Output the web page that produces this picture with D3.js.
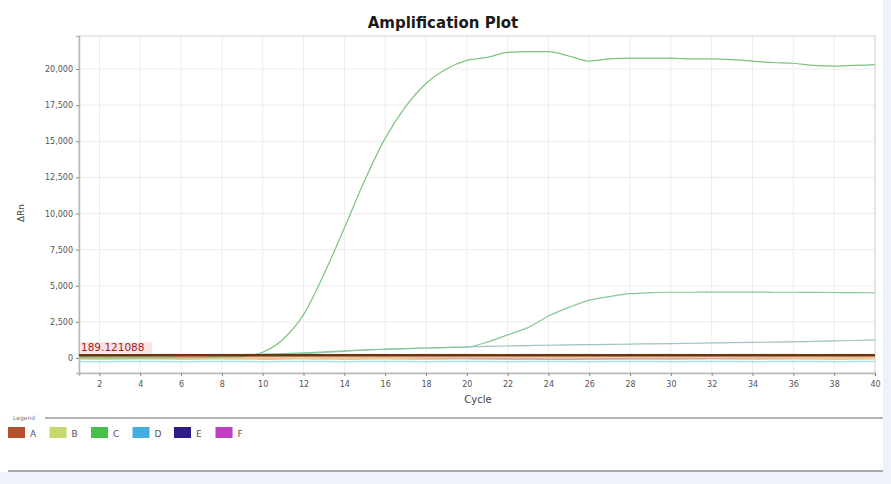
<!DOCTYPE html>
<html>
<head>
<meta charset="utf-8">
<script src="https://cdn.jsdelivr.net/npm/d3@7"></script>
<style>
  body { margin: 0; background: #fff; }
  svg { display: block; font-family: "DejaVu Sans", Arial, sans-serif; }
</style>
</head>
<body>
<div id="chart"></div>
<script>
// ---- data ----
const cycles = [1,2,3,4,5,6,7,8,9,10,11,12,13,14,15,16,17,18,19,20,
                21,22,23,24,25,26,27,28,29,30,31,32,33,34,35,36,37,38,39,40];

// well C, strong amplification
const c1Values = [0,0,0,10,20,30,40,60,100,400,1300,3000,5800,9000,12300,15200,17400,19000,20000,20600,
                  20800,21150,21200,21200,20900,20550,20700,20750,20750,20750,20700,20700,20650,20550,20450,20400,20250,20200,20250,20300];
// well C, late amplification
const c2Values = [100,120,140,150,160,170,190,210,230,260,300,350,420,500,560,610,650,690,720,760,
                  1100,1600,2100,2900,3500,4000,4250,4450,4520,4550,4550,4560,4560,4560,4550,4550,4540,4530,4520,4510];
// well D, slow drift
const dValues = [120,130,140,150,160,170,180,190,200,220,250,300,380,460,540,600,650,690,730,770,
                 800,830,860,880,900,920,940,960,980,1000,1020,1040,1060,1080,1100,1120,1150,1180,1210,1250];
// flat baseline wells
const aValues = [160,150,140,150,160,150,140,150,150,160,150,140,150,160,150,150,140,150,160,150,
                 150,140,150,160,150,150,140,150,160,150,150,140,150,150,160,150,140,150,160,150];
const bValues = [60,50,40,50,60,50,40,50,60,50,50,40,50,60,50,40,50,60,50,50,
                 40,50,60,50,40,50,60,50,50,40,50,60,50,40,50,60,50,50,40,50];
const eValues = [-20,-30,-20,-10,-20,-30,-20,-10,-20,-30,-20,-10,-20,-30,-20,-10,-20,-30,-20,-10,
                 -20,-30,-20,-10,-20,-30,-20,-10,-20,-30,-20,-10,-20,-30,-20,-10,-20,-30,-20,-10];
const fValues = [90,80,70,80,90,80,70,80,90,80,70,80,90,80,70,60,40,20,0,-20,
                 -40,-60,-70,-80,-80,-70,-60,-50,-40,-30,-20,-10,0,10,20,30,40,50,60,70];
const d2Values = [-250,-260,-250,-240,-250,-260,-250,-240,-250,-260,-250,-240,-250,-260,-250,-240,-250,-260,-250,-240,
                  -250,-260,-250,-240,-250,-260,-250,-240,-250,-260,-250,-240,-250,-260,-250,-240,-250,-260,-250,-240];

const threshold = 189.121088;

const yTicks = [0, 2500, 5000, 7500, 10000, 12500, 15000, 17500, 20000];
const xTicks = [2,4,6,8,10,12,14,16,18,20,22,24,26,28,30,32,34,36,38,40];

const legendNames = ["A", "B", "C", "D", "E", "F"];
const legendColors = ["#b4512a", "#c7d86c", "#45c04a", "#43aee0", "#2b1c86", "#c03ec4"];

const series = [
  { values: d2Values, color: "#a8e4ee", width: 1.5 },
  { values: eValues, color: "#f2c48a", width: 3 },
  { values: bValues, color: "#e8d27a", width: 2 },
  { values: fValues, color: "#d9a0b0", width: 1.5 },
  { values: aValues, color: "#f3c9a6", width: 4 },
  { values: dValues, color: "#9fc2c4", width: 1.2 },
  { values: c2Values, color: "#86c89a", width: 1.2 },
  { values: c1Values, color: "#7cc47f", width: 1.2 }
];

// ---- layout ----
const width = 891, height = 484;
const margin = { left: 79, right: 16, top: 36, bottom: 111 };

const svg = d3.select("#chart").append("svg")
  .attr("width", width)
  .attr("height", height);

// outer light-blue frame
svg.append("rect").attr("x", 0).attr("y", 0).attr("width", width).attr("height", height).attr("fill", "#eef3fb");
svg.append("rect").attr("x", 0).attr("y", 0).attr("width", 883).attr("height", 472).attr("fill", "#fff");

const x = d3.scaleLinear().domain([1, 40]).range([margin.left, width - margin.right]);
const y = d3.scaleLinear().domain([-1040, 22285]).range([height - margin.bottom, margin.top]);

// grid
svg.append("g")
  .selectAll("line")
  .data(xTicks)
  .enter().append("line")
  .attr("x1", d => x(d)).attr("x2", d => x(d))
  .attr("y1", margin.top).attr("y2", height - margin.bottom)
  .attr("stroke", "#ececec");

svg.append("g")
  .selectAll("line")
  .data(yTicks)
  .enter().append("line")
  .attr("x1", margin.left).attr("x2", width - margin.right)
  .attr("y1", d => y(d)).attr("y2", d => y(d))
  .attr("stroke", "#ececec");

// plot border
svg.append("rect")
  .attr("x", margin.left).attr("y", margin.top)
  .attr("width", width - margin.left - margin.right)
  .attr("height", height - margin.top - margin.bottom)
  .attr("fill", "none")
  .attr("stroke", "#d6d6d6");

// axes
const yAxis = d3.axisLeft(y)
  .tickValues(yTicks)
  .tickSize(3)
  .tickFormat(d3.format(","));

const xAxis = d3.axisBottom(x)
  .tickValues(xTicks)
  .tickSize(3)
  .tickFormat(d3.format("d"));

const gy = svg.append("g")
  .attr("transform", `translate(${margin.left},0)`)
  .call(yAxis);
const gx = svg.append("g")
  .attr("transform", `translate(0,${height - margin.bottom})`)
  .call(xAxis);

[gx, gy].forEach(g => {
  g.select(".domain").attr("stroke", "#b8b8b8").attr("stroke-width", 1.5);
  g.selectAll(".tick line").attr("stroke", "#888");
  g.selectAll(".tick text")
    .attr("fill", "#555")
    .style("font-size", "8px")
    .style("font-family", "DejaVu Sans, Arial, sans-serif");
});
gy.selectAll(".tick text").attr("x", -6);
gx.selectAll(".tick text").attr("y", 8);

// curves
const line = d3.line()
  .x((d, i) => x(cycles[i]))
  .y(d => y(d))
  .curve(d3.curveMonotoneX);

svg.append("g")
  .selectAll("path")
  .data(series)
  .enter().append("path")
  .attr("d", d => line(d.values))
  .attr("fill", "none")
  .attr("stroke", d => d.color)
  .attr("stroke-width", d => d.width);

// threshold line and label
svg.append("line")
  .attr("x1", margin.left).attr("x2", width - margin.right)
  .attr("y1", y(threshold)).attr("y2", y(threshold))
  .attr("stroke", "#6b3512")
  .attr("stroke-width", 2.5);

svg.append("rect")
  .attr("x", margin.left + 1).attr("y", y(threshold) - 13)
  .attr("width", 72).attr("height", 11)
  .attr("fill", "#fbe3e3");

svg.append("text")
  .attr("x", margin.left + 2)
  .attr("y", y(threshold) - 4)
  .attr("fill", "#a11d1d")
  .style("font-size", "10.5px")
  .text("189.121088");

// titles
svg.append("text")
  .attr("x", 443).attr("y", 28)
  .attr("text-anchor", "middle")
  .style("font-size", "15px")
  .style("font-weight", "bold")
  .attr("fill", "#1a1a1a")
  .text("Amplification Plot");

svg.append("text")
  .attr("x", 478).attr("y", 403)
  .attr("text-anchor", "middle")
  .style("font-size", "10px")
  .attr("fill", "#444")
  .text("Cycle");

svg.append("text")
  .attr("transform", "translate(24,213) rotate(-90)")
  .attr("text-anchor", "middle")
  .style("font-size", "9px")
  .attr("fill", "#444")
  .text("ΔRn");

// legend
svg.append("line")
  .attr("x1", 45).attr("x2", 883)
  .attr("y1", 418).attr("y2", 418)
  .attr("stroke", "#9a9a9a").attr("stroke-width", 1.5);
svg.append("line")
  .attr("x1", 8).attr("x2", 883)
  .attr("y1", 471).attr("y2", 471)
  .attr("stroke", "#a8a8a8").attr("stroke-width", 2);
svg.append("text")
  .attr("x", 13).attr("y", 420)
  .style("font-size", "6px")
  .attr("fill", "#777")
  .text("Legend");

const legendItems = svg.append("g")
  .selectAll("g")
  .data(legendNames)
  .enter().append("g")
  .attr("transform", (d, i) => `translate(${8 + i * 41.5},427)`);

legendItems.append("rect")
  .attr("width", 17).attr("height", 11)
  .attr("fill", (d, i) => legendColors[i]);

legendItems.append("text")
  .attr("x", 22).attr("y", 10)
  .style("font-size", "9px")
  .attr("fill", "#555")
  .text(d => d);
</script>
</body>
</html>
